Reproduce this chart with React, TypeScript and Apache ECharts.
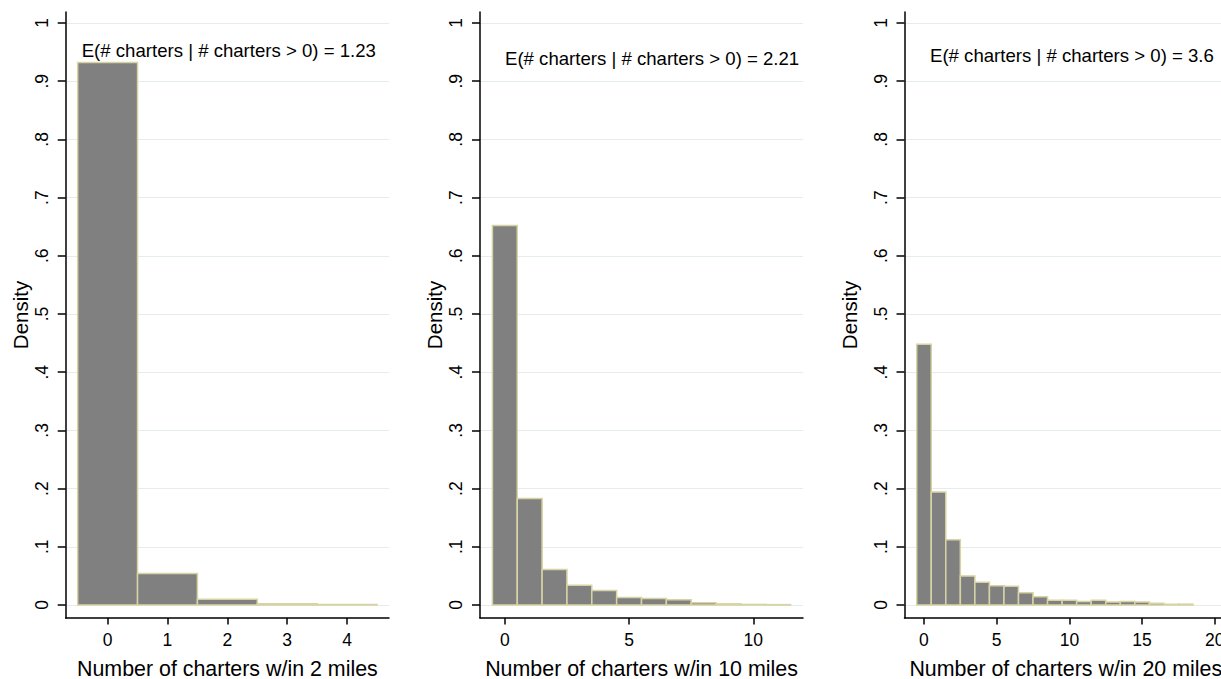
import React, { useEffect, useRef } from "react";
import * as echarts from "echarts";

// ---------- data ----------
const Y_TICKS = [0, 0.1, 0.2, 0.3, 0.4, 0.5, 0.6, 0.7, 0.8, 0.9, 1];

const P1_BINS = [0, 1, 2, 3, 4];
const P1_DENSITY = [0.932, 0.054, 0.01, 0.002, 0.001];
const P1_XTICKS = [0, 1, 2, 3, 4];

const P2_BINS = [0, 1, 2, 3, 4, 5, 6, 7, 8, 9, 10, 11];
const P2_DENSITY = [0.652, 0.183, 0.061, 0.034, 0.025, 0.013, 0.011, 0.009, 0.004, 0.002, 0.001, 0.0006];
const P2_XTICKS = [0, 5, 10];

const P3_BINS = [0, 1, 2, 3, 4, 5, 6, 7, 8, 9, 10, 11, 12, 13, 14, 15, 16, 17, 18];
const P3_DENSITY = [0.448, 0.194, 0.112, 0.05, 0.039, 0.033, 0.032, 0.021, 0.014, 0.008, 0.008, 0.006, 0.008, 0.005, 0.006, 0.005, 0.003, 0.0015, 0.0015];
const P3_XTICKS = [0, 5, 10, 15, 20];

const X_TITLES = [
  "Number of charters w/in 2 miles",
  "Number of charters w/in 10 miles",
  "Number of charters w/in 20 miles",
];
const Y_TITLE = "Density";
const MEANS = ["1.23", "2.21", "3.6"];

// ---------- layout / style ----------
const FONT = '"Liberation Sans", Arial, Helvetica, sans-serif';
const BAR_FILL = "#808080";
const BAR_EDGE = "#d8d3a2";
const GRID_COLOR = "#e4ecef";

const PANELS = [
  { bins: P1_BINS, dens: P1_DENSITY, xticks: P1_XTICKS, xmin: -0.7, xmax: 4.7, left: 65.7, width: 323.3, nameGap: 35, annX: 81.7, annY: 50.5 },
  { bins: P2_BINS, dens: P2_DENSITY, xticks: P2_XTICKS, xmin: -1, xmax: 12, left: 480, width: 323, nameGap: 35, annX: 505, annY: 58.5 },
  { bins: P3_BINS, dens: P3_DENSITY, xticks: P3_XTICKS, xmin: -1.34, xmax: 20.84, left: 904.5, width: 322.5, nameGap: 44.5, annX: 930, annY: 55.5 },
];

const GRID_TOP = 12;
const GRID_H = 606;
const Y_MIN = -0.02234;
const Y_MAX = 1.0189;

function fmtY(v: number) {
  const s = (Math.round(v * 10) / 10).toString();
  return s.startsWith("0.") ? s.slice(1) : s;
}

export default function App() {
  const ref = useRef<HTMLDivElement>(null);
  useEffect(() => {
    if (!ref.current) return;
    document.documentElement.style.overflow = "hidden";
    document.body.style.margin = "0";
    document.body.style.overflow = "hidden";
    const chart = echarts.init(ref.current, undefined, { renderer: "svg" });

    const grid = PANELS.map((p) => ({
      left: p.left,
      top: GRID_TOP,
      width: p.width,
      height: GRID_H,
      containLabel: false,
      outerBoundsMode: "none",
    }));
    const xAxis = PANELS.map((p, i) => ({
      type: "value",
      gridIndex: i,
      min: p.xmin,
      max: p.xmax,
      name: X_TITLES[i],
      nameLocation: "middle",
      nameGap: 40,
      nameTextStyle: { fontFamily: FONT, fontSize: 21.4, color: "#000" },
      axisLine: { show: true, onZero: false, lineStyle: { color: "#000", width: 1.5 } },
      axisTick: { show: true, length: 6.5, customValues: p.xticks, lineStyle: { color: "#000", width: 1.5 } },
      axisLabel: { customValues: p.xticks, margin: 13, fontFamily: FONT, fontSize: 17.5, color: "#000" },
      splitLine: { show: false },
    }));
    const yAxis = PANELS.map((p, i) => ({
      type: "value",
      gridIndex: i,
      min: Y_MIN,
      max: Y_MAX,
      name: Y_TITLE,
      nameLocation: "middle",
      nameGap: p.nameGap,
      nameTextStyle: { fontFamily: FONT, fontSize: 20.5, color: "#000" },
      axisLine: { show: true, onZero: false, lineStyle: { color: "#000", width: 1.5 } },
      axisTick: { show: true, length: 8, customValues: Y_TICKS, lineStyle: { color: "#000", width: 1.5 } },
      axisLabel: {
        customValues: Y_TICKS,
        rotate: 90,
        margin: 15,
        fontFamily: FONT,
        fontSize: 17.5,
        color: "#000",
        formatter: (v: number) => fmtY(v),
      },
      splitLine: { show: true, lineStyle: { color: GRID_COLOR, width: 1.2 } },
    }));

    const series = PANELS.map((p, i) => ({
      type: "custom",
      xAxisIndex: i,
      yAxisIndex: i,
      encode: { x: 0, y: 1 },
      data: p.bins.map((b, k) => [b, p.dens[k]]),
      renderItem: (params: any, api: any) => {
        const x = api.value(0);
        const h = api.value(1);
        const a = api.coord([x - 0.5, h]);
        const b = api.coord([x + 0.5, 0]);
        return {
          type: "rect",
          shape: { x: a[0], y: a[1], width: b[0] - a[0], height: b[1] - a[1] },
          style: { fill: BAR_FILL, stroke: BAR_EDGE, lineWidth: 1.5 },
        };
      },
    }));

    const graphic = PANELS.map((p, i) => ({
      type: "text",
      x: p.annX,
      y: p.annY,
      style: {
        text: `E(# charters | # charters > 0) = ${MEANS[i]}`,
        fill: "#000",
        fontFamily: FONT,
        fontSize: 18.6,
        align: "left",
        verticalAlign: "middle",
      },
    }));

    chart.setOption({
      animation: false,
      backgroundColor: "#fff",
      grid,
      xAxis,
      yAxis,
      series,
      graphic,
    });
    return () => chart.dispose();
  }, []);
  return (
    <div
      ref={ref}
      style={{ width: 1221, height: 679, overflow: "hidden", background: "#fff" }}
    />
  );
}
